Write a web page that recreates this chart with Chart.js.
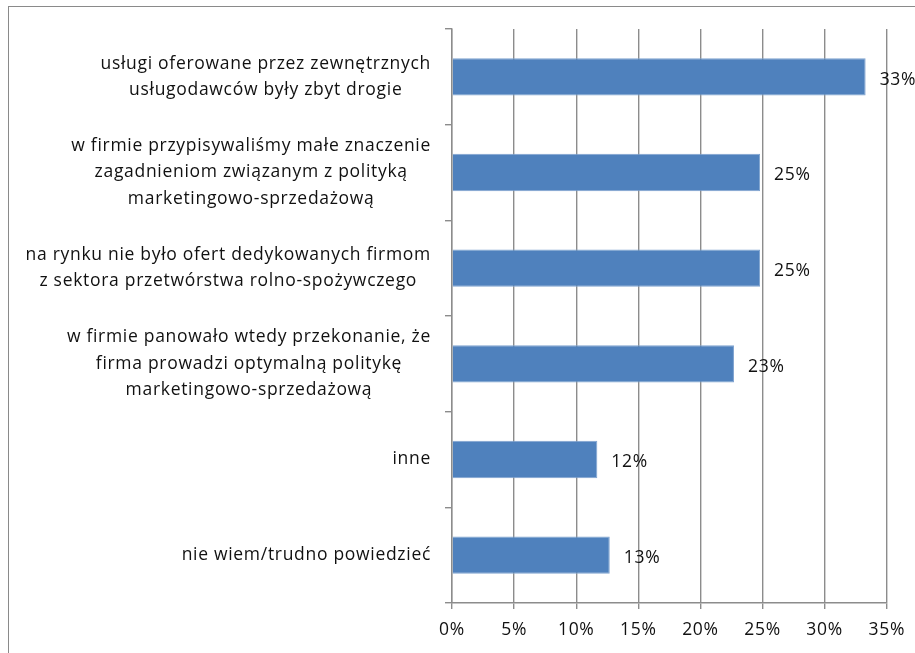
<!DOCTYPE html>
<html>
<head>
<meta charset="utf-8">
<script src="https://cdn.jsdelivr.net/npm/chart.js@4.4.0/dist/chart.umd.min.js"></script>
<style>
    html, body { margin: 0; padding: 0; background: #fff; overflow: hidden; }
    #wrap { position: relative; width: 915px; height: 653px; }
    #frame { position: absolute; left: 8px; top: 6px; width: 1000px; height: 1000px; border: 1px solid #8a8a8a; }
    #chart { position: absolute; left: 0; top: 0; }
</style>
</head>
<body>
<div id="wrap">
    <div id="frame"></div>
    <canvas id="chart" width="915" height="653"></canvas>
</div>
<script>
// Categories (one array of lines per bar), values in percent, axis ticks
const categories = [
    ['usługi oferowane przez zewnętrznych', 'usługodawców były zbyt drogie'],
    ['w firmie przypisywaliśmy małe znaczenie', 'zagadnieniom związanym z polityką', 'marketingowo-sprzedażową'],
    ['na rynku nie było ofert dedykowanych firmom', 'z sektora przetwórstwa rolno-spożywczego'],
    ['w firmie panowało wtedy przekonanie, że', 'firma prowadzi optymalną politykę', 'marketingowo-sprzedażową'],
    ['inne'],
    ['nie wiem/trudno powiedzieć']
];
const values = [33.3, 24.8, 24.8, 22.7, 11.7, 12.7];
const xTicks = [0, 5, 10, 15, 20, 25, 30, 35];

const FONT_FAMILY = '"Open Sans", sans-serif';
const FONT_SIZE = 17.5;
const LETTER_SPACING = '0.7px';
const TEXT_COLOR = '#111';
const GRID_COLOR = '#8c8c8c';
const BAR_COLOR = '#4f81bd';
const LABEL_RIGHT = 431;
const LINE_H = 26.5;

// Wider tracking for all canvas text
const tracking = {
    id: 'tracking',
    beforeDraw(chart) { chart.ctx.letterSpacing = LETTER_SPACING; }
};

// Category text: lines centred on each other, block right-aligned next to the axis
const categoryLabels = {
    id: 'categoryLabels',
    afterDraw(chart) {
        const { ctx } = chart;
        const y = chart.scales.y;
        ctx.save();
        ctx.letterSpacing = LETTER_SPACING;
        ctx.font = `${FONT_SIZE}px ${FONT_FAMILY}`;
        ctx.fillStyle = TEXT_COLOR;
        ctx.textAlign = 'center';
        ctx.textBaseline = 'middle';
        categories.forEach((lines, i) => {
            const cy = y.getPixelForValue(i);
            const w = Math.max(...lines.map(l => ctx.measureText(l).width));
            const cx = LABEL_RIGHT - w / 2;
            lines.forEach((l, j) => {
                ctx.fillText(l, cx, cy + (j - (lines.length - 1) / 2) * LINE_H);
            });
        });
        ctx.restore();
    }
};

// Percentage labels to the right of each bar
const valueLabels = {
    id: 'valueLabels',
    afterDatasetsDraw(chart) {
        const { ctx } = chart;
        const meta = chart.getDatasetMeta(0);
        ctx.save();
        ctx.letterSpacing = LETTER_SPACING;
        ctx.font = `${FONT_SIZE}px ${FONT_FAMILY}`;
        ctx.fillStyle = TEXT_COLOR;
        ctx.textAlign = 'left';
        ctx.textBaseline = 'middle';
        meta.data.forEach((bar, i) => {
            ctx.fillText(Math.round(values[i]) + '%', bar.x + 14, bar.y + 3);
        });
        ctx.restore();
    }
};

new Chart(document.getElementById('chart'), {
    type: 'bar',
    data: {
        labels: categories,
        datasets: [{
            data: values,
            backgroundColor: BAR_COLOR,
            borderColor: '#7fa3d0',
            borderWidth: 1,
            barPercentage: 0.39,
            categoryPercentage: 1
        }]
    },
    options: {
        indexAxis: 'y',
        responsive: false,
        animation: false,
        layout: { padding: { top: 29, right: 28, bottom: 0, left: 0 } },
        plugins: {
            legend: { display: false },
            tooltip: { enabled: false }
        },
        scales: {
            x: {
                min: 0,
                max: 35,
                afterBuildTicks: scale => { scale.ticks = xTicks.map(v => ({ value: v })); },
                afterFit: scale => { scale.height = 50; },
                grid: { color: GRID_COLOR, lineWidth: 1.4, tickLength: 6 },
                border: { color: GRID_COLOR, width: 1.4 },
                ticks: {
                    padding: 11,
                    color: TEXT_COLOR,
                    font: { family: FONT_FAMILY, size: FONT_SIZE },
                    callback: v => v + '%'
                }
            },
            y: {
                afterFit: scale => { scale.width = 452; },
                grid: { drawOnChartArea: false, color: GRID_COLOR, lineWidth: 1.4, tickLength: 7 },
                border: { color: GRID_COLOR, width: 1.4 },
                ticks: { display: false }
            }
        }
    },
    plugins: [tracking, categoryLabels, valueLabels]
});
</script>
</body>
</html>
